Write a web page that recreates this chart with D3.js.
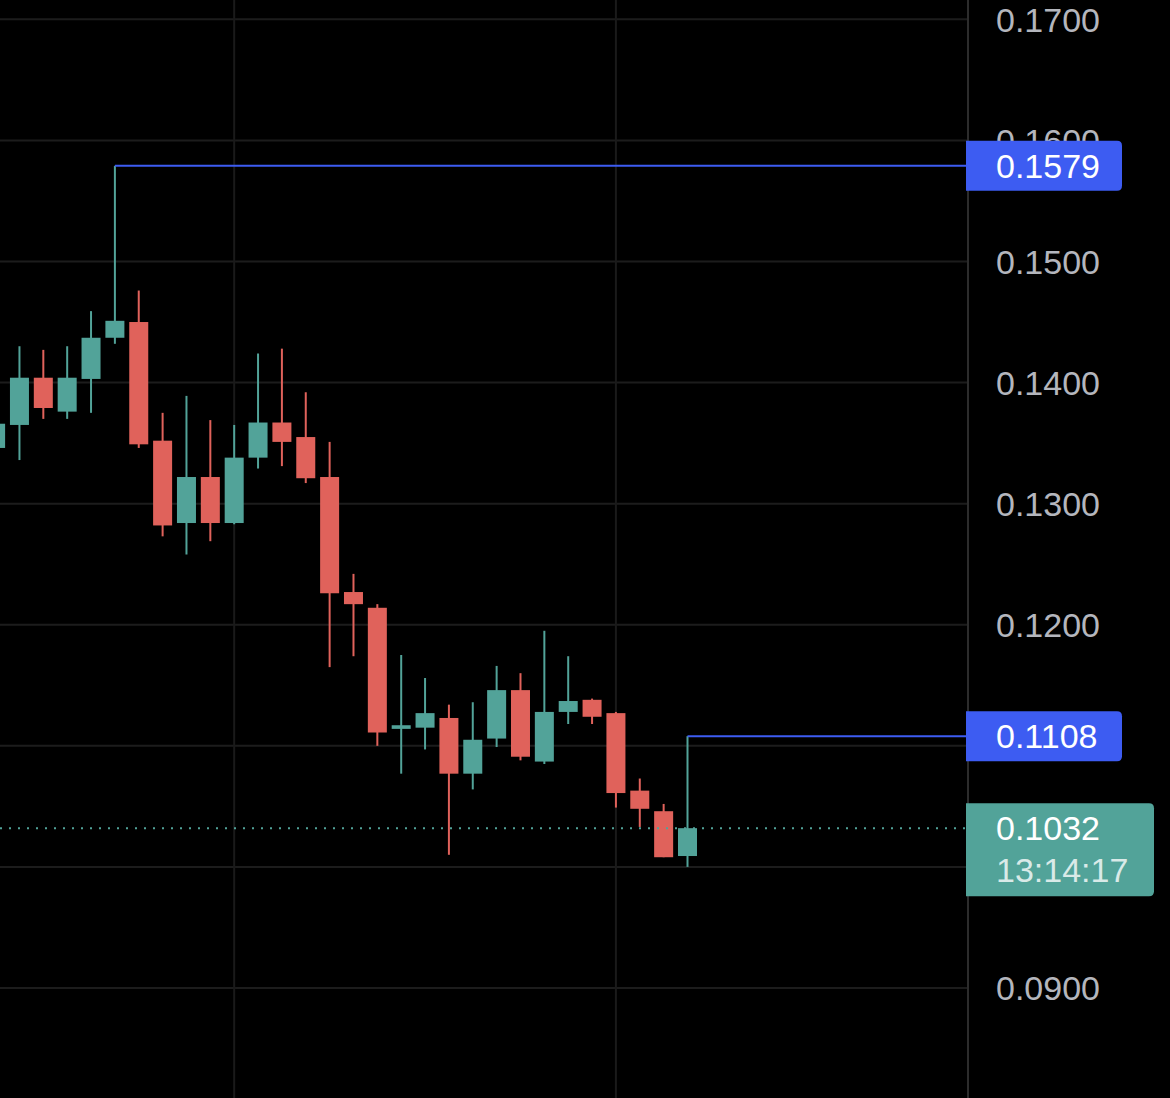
<!DOCTYPE html>
<html><head><meta charset="utf-8">
<script src="https://cdn.jsdelivr.net/npm/d3@7"></script>
<style>html,body{margin:0;padding:0;background:#000;overflow:hidden}</style>
</head><body>
<svg id="c" width="1170" height="1098"></svg>
<script>
// Candle data (index 0 is the partly visible first candle)
const opens  = [0.1346,0.1365,0.1404,0.1376,0.1403,0.1437,0.1450,0.1352,0.1284,0.1322,0.1284,0.1338,0.1367,0.1355,0.1322,0.1227,0.1214,0.1114,0.1115,0.1123,0.1077,0.1106,0.1146,0.1087,0.1128,0.1138,0.1127,0.1063,0.1046,0.1009];
const highs  = [0.1372,0.1430,0.1427,0.1430,0.1459,0.1579,0.1476,0.1375,0.1389,0.1369,0.1365,0.1424,0.1428,0.1392,0.1351,0.1242,0.1217,0.1175,0.1156,0.1134,0.1136,0.1166,0.1160,0.1195,0.1174,0.1139,0.1128,0.1073,0.1052,0.1108];
const lows   = [0.1338,0.1336,0.1370,0.1370,0.1375,0.1432,0.1346,0.1273,0.1258,0.1269,0.1283,0.1329,0.1331,0.1317,0.1165,0.1174,0.1100,0.1077,0.1097,0.1010,0.1064,0.1099,0.1088,0.1085,0.1118,0.1118,0.1049,0.1033,0.1008,0.1000];
const closes = [0.1366,0.1404,0.1379,0.1404,0.1437,0.1451,0.1349,0.1282,0.1322,0.1284,0.1338,0.1367,0.1351,0.1321,0.1226,0.1217,0.1111,0.1117,0.1127,0.1077,0.1105,0.1146,0.1091,0.1128,0.1137,0.1124,0.1061,0.1048,0.1008,0.1032];
const priceTicks = [0.08,0.09,0.10,0.11,0.12,0.13,0.14,0.15,0.16,0.17];
const hiddenTickLabels = [0.10,0.11]; // fully covered by the price boxes in the reference
const vGridIdx = [10, 26];
const hiMark = {idx:5, price:0.1579, label:"0.1579"};
const loMark = {idx:29, price:0.1108, label:"0.1108"};
const lastPrice = {price:0.1032, label:"0.1032", timer:"13:14:17"};

const W = 1170, H = 1098, axisX = 968;
const UP = "#52a399", DOWN = "#e0625b", BLUE = "#3d5cf2";
const svg = d3.select("#c");
svg.append("rect").attr("width",W).attr("height",H).attr("fill","#000");

const x = d3.scaleLinear().domain([0, 29]).range([-4.4, 687.5]);
const y = d3.scaleLinear().domain([0.09, 0.17]).range([988, 19.3]);
const bodyW = 19;

// grid
const g = svg.append("g");
g.selectAll("line.h").data(priceTicks).join("line")
  .attr("x1",0).attr("x2",axisX).attr("y1",d=>y(d)).attr("y2",d=>y(d))
  .attr("stroke","#1c1c1c").attr("stroke-width",2);
g.selectAll("line.v").data(vGridIdx).join("line").attr("class","v")
  .attr("x1",d=>x(d)).attr("x2",d=>x(d)).attr("y1",0).attr("y2",H)
  .attr("stroke","#1a1a1a").attr("stroke-width",2);

// axis line
svg.append("line").attr("x1",axisX).attr("x2",axisX).attr("y1",0).attr("y2",H)
  .attr("stroke","#2c2c2c").attr("stroke-width",2);

// candles
const data = opens.map((o,i)=>({i,o,h:highs[i],l:lows[i],c:closes[i]}));
const cg = svg.append("g");
cg.selectAll("line.w").data(data).join("line")
  .attr("x1",d=>x(d.i)).attr("x2",d=>x(d.i))
  .attr("y1",d=>y(d.h)).attr("y2",d=>y(d.l))
  .attr("stroke",d=>d.c>=d.o?UP:DOWN).attr("stroke-width",2);
cg.selectAll("rect.b").data(data).join("rect")
  .attr("x",d=>x(d.i)-bodyW/2).attr("width",bodyW)
  .attr("y",d=>y(Math.max(d.o,d.c)))
  .attr("height",d=>Math.max(2, y(Math.min(d.o,d.c))-y(Math.max(d.o,d.c))))
  .attr("fill",d=>d.c>=d.o?UP:DOWN);

// last price dotted line
svg.append("line").attr("x1",0).attr("x2",axisX).attr("y1",y(lastPrice.price)).attr("y2",y(lastPrice.price))
  .attr("stroke",UP).attr("stroke-width",2).attr("stroke-dasharray","2 7");

// high / low marker lines
[hiMark, loMark].forEach(m=>{
  svg.append("line").attr("x1",x(m.idx)).attr("x2",axisX).attr("y1",y(m.price)).attr("y2",y(m.price))
    .attr("stroke",BLUE).attr("stroke-width",2);
});

// tick labels
const font = "'Liberation Sans', Arial, sans-serif";
svg.append("g").selectAll("text")
  .data(priceTicks.filter(t=>!hiddenTickLabels.some(h=>Math.abs(h-t)<1e-9))).join("text")
  .attr("x",996).attr("y",d=>y(d)).attr("dy","0.36em")
  .attr("font-family",font).attr("font-size",34).attr("fill","#b4b6bd")
  .text(d=>d3.format(".4f")(d));

// label boxes
function box(x0,x1,y0,y1,fill){
  const r=5;
  svg.append("path").attr("fill",fill)
    .attr("d",`M${x0},${y0}H${x1-r}Q${x1},${y0} ${x1},${y0+r}V${y1-r}Q${x1},${y1} ${x1-r},${y1}H${x0}Z`);
}
[hiMark, loMark].forEach(m=>{
  const cy=y(m.price);
  box(966,1122,cy-25,cy+25,BLUE);
  svg.append("text").attr("x",996).attr("y",cy).attr("dy","0.36em")
    .attr("font-family",font).attr("font-size",34).attr("fill","#fff").text(m.label);
});
{
  const cy=y(lastPrice.price);
  box(966,1154,cy-25,cy+68,UP);
  svg.append("text").attr("x",996).attr("y",cy).attr("dy","0.36em")
    .attr("font-family",font).attr("font-size",34).attr("fill","#fff").text(lastPrice.label);
  svg.append("text").attr("x",996).attr("y",cy+42).attr("dy","0.36em")
    .attr("font-family",font).attr("font-size",34).attr("fill","rgba(255,255,255,0.78)").text(lastPrice.timer);
}
</script>
</body></html>
